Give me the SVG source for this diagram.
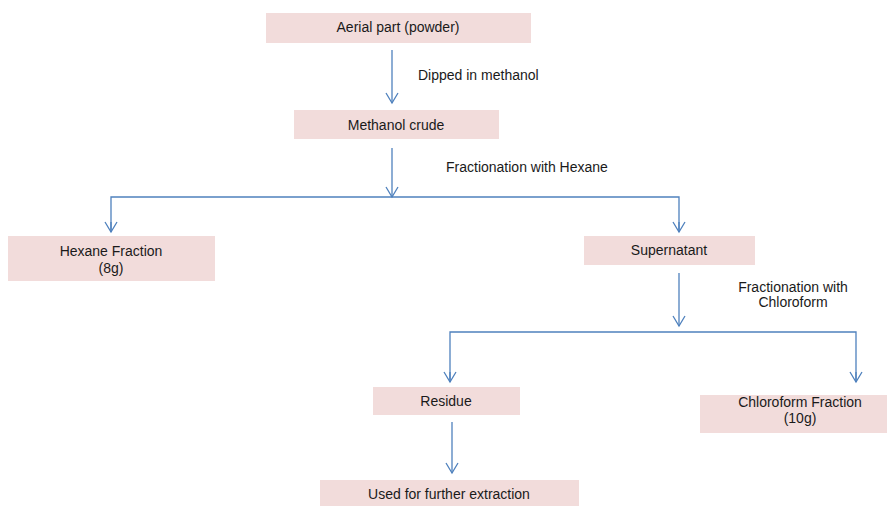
<svg xmlns="http://www.w3.org/2000/svg" width="888" height="506" viewBox="0 0 888 506">
<defs>
<marker id="ah" markerWidth="14" markerHeight="14" refX="12" refY="7" orient="auto" markerUnits="userSpaceOnUse" viewBox="0 0 14 14">
<polyline points="2,1 12,7 2,13" fill="none" stroke="#4f81bd" stroke-width="1.3"/>
</marker>
</defs>
<style>
.box{fill:#f2dcdb;}
.t{font-family:"Liberation Sans",Arial,sans-serif;font-size:14px;fill:#1a1a1a;}
.m{text-anchor:middle;}
.c{fill:none;stroke:#4f81bd;stroke-width:1.3;}
</style>
<rect width="888" height="506" fill="#ffffff"/>
<g id="connectors">
<line class="c" x1="392" y1="50" x2="392" y2="103" marker-end="url(#ah)"/>
<line class="c" x1="392" y1="148" x2="392" y2="197" marker-end="url(#ah)"/>
<polyline class="c" points="111,232 111,197 679,197 679,232"/>
<line class="c" x1="111" y1="222" x2="111" y2="232" marker-end="url(#ah)"/>
<line class="c" x1="679" y1="222" x2="679" y2="232" marker-end="url(#ah)"/>
<line class="c" x1="679" y1="273" x2="679" y2="326" marker-end="url(#ah)"/>
<polyline class="c" points="450,382 450,332 856,332 856,382"/>
<line class="c" x1="450" y1="372" x2="450" y2="382" marker-end="url(#ah)"/>
<line class="c" x1="856" y1="372" x2="856" y2="382" marker-end="url(#ah)"/>
<line class="c" x1="452" y1="422" x2="452" y2="473" marker-end="url(#ah)"/>
<text class="t" x="418" y="80">Dipped in methanol</text>
<text class="t" x="446" y="172">Fractionation with Hexane</text>
<text class="t m" x="793" y="292">Fractionation with</text>
<text class="t m" x="793" y="307">Chloroform</text>
</g>
<g id="aerial">
<rect class="box" x="266" y="13" width="265" height="30"/>
<text class="t m" x="398" y="32">Aerial part (powder)</text>
</g>
<g id="methanol">
<rect class="box" x="294" y="110" width="205" height="29"/>
<text class="t m" x="396" y="130">Methanol crude</text>
</g>
<g id="hexane">
<rect class="box" x="8" y="236" width="207" height="45"/>
<text class="t m" x="111" y="256">Hexane Fraction</text>
<text class="t m" x="111" y="273">(8g)</text>
</g>
<g id="supernatant">
<rect class="box" x="584" y="236" width="171" height="29"/>
<text class="t m" x="669" y="255">Supernatant</text>
</g>
<g id="residue">
<rect class="box" x="373" y="387" width="147" height="28"/>
<text class="t m" x="446" y="406">Residue</text>
</g>
<g id="chloroform">
<rect class="box" x="700" y="395" width="187" height="38"/>
<text class="t m" x="800" y="407">Chloroform Fraction</text>
<text class="t m" x="800" y="423">(10g)</text>
</g>
<g id="used">
<rect class="box" x="320" y="480" width="259" height="26"/>
<text class="t m" x="449" y="499">Used for further extraction</text>
</g>
</svg>
